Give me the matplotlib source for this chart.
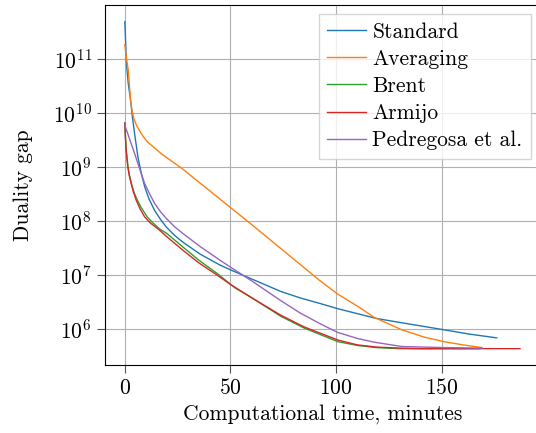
import matplotlib
matplotlib.use("Agg")
import matplotlib.pyplot as plt
import numpy as np
from matplotlib.ticker import NullLocator

plt.rcParams['font.family'] = 'serif'
plt.rcParams['font.serif'] = ['cmr10']
plt.rcParams['mathtext.fontset'] = 'cm'
plt.rcParams['axes.formatter.use_mathtext'] = True
plt.rcParams['axes.unicode_minus'] = False

# time in minutes, duality gap as log10 values
t_standard = [0, 0.8, 1.6, 2.7, 3.6, 4.6, 6.2, 7.8, 9.4, 11.5, 14.1, 16.8, 19.7,
              23.5, 27.6, 35.7, 45, 50, 59.5, 73.8, 83, 93, 100.8, 119, 131,
              151, 163, 176]
g_standard = [11.69, 10.9, 10.55, 10.24, 9.92, 9.62, 9.18, 8.88, 8.63, 8.4,
              8.19, 8.03, 7.88, 7.73, 7.6, 7.38, 7.18, 7.09, 6.93, 6.69, 6.57,
              6.46, 6.37, 6.19, 6.11, 5.98, 5.9, 5.83]

t_averaging = [0, 0.8, 1.6, 2.7, 3.4, 4.2, 5.5, 6.8, 8, 9.5, 11, 14.1, 17,
               20.5, 27, 33.3, 43.8, 60, 83, 92, 100.8, 110, 118, 131, 142,
               151, 160, 169]
g_averaging = [11.26, 11.0, 10.8, 10.24, 10.05, 9.9, 9.77, 9.68, 9.6, 9.52,
               9.45, 9.35, 9.25, 9.15, 8.97, 8.77, 8.44, 7.93, 7.19, 6.9, 6.64,
               6.42, 6.21, 5.98, 5.84, 5.76, 5.7, 5.65]

t_brent = [0, 0.3, 0.7, 1.5, 2.2, 3.2, 4.3, 5.7, 7.5, 10.6, 13, 16.4, 20, 27.6,
           35, 43.8, 52, 61, 73.8, 85, 100.8, 110, 119, 130, 140, 168]
g_brent = [9.81, 9.55, 9.3, 9.0, 8.84, 8.68, 8.53, 8.4, 8.26, 8.07, 7.97, 7.85,
           7.76, 7.51, 7.27, 7.02, 6.76, 6.55, 6.23, 6.01, 5.76, 5.69, 5.65,
           5.63, 5.63, 5.63]

t_armijo = [0, 0.3, 0.6, 1.4, 2.1, 3, 4.1, 5.4, 7.2, 9.4, 12, 15.7, 20, 27.6,
            35, 43.8, 50, 61, 73.8, 85, 100.8, 110, 119, 130, 140, 160, 187]
g_armijo = [9.81, 9.55, 9.31, 9.0, 8.84, 8.69, 8.53, 8.38, 8.22, 8.07, 7.96,
            7.85, 7.7, 7.45, 7.22, 6.99, 6.82, 6.55, 6.25, 6.03, 5.79, 5.7,
            5.66, 5.64, 5.63, 5.63, 5.63]

t_pedregosa = [0, 1.5, 3, 4.6, 6.2, 7.8, 9.4, 11.7, 14.1, 16.8, 19.7, 23.5,
               27.6, 35.7, 45, 50, 59.5, 73.8, 83, 93, 100.8, 110, 118, 131,
               151, 169]
g_pedregosa = [9.77, 9.6, 9.43, 9.25, 9.06, 8.87, 8.69, 8.5, 8.32, 8.17, 8.04,
               7.89, 7.76, 7.52, 7.27, 7.14, 6.9, 6.52, 6.29, 6.08, 5.93, 5.82,
               5.75, 5.67, 5.65, 5.64]

series = [
    ("Standard", t_standard, g_standard, "#1f77b4"),
    ("Averaging", t_averaging, g_averaging, "#ff7f0e"),
    ("Brent", t_brent, g_brent, "#2ca02c"),
    ("Armijo", t_armijo, g_armijo, "#d62728"),
    ("Pedregosa et al.", t_pedregosa, g_pedregosa, "#9467bd"),
]

fig = plt.figure(figsize=(5.36, 4.33), dpi=100)
ax = fig.add_axes([0.196, 0.157, 0.811, 0.831])

for name, t, g, c in series:
    ax.plot(t, 10 ** np.array(g), color=c, lw=1.0, label=name)

ax.set_yscale("log")
ax.yaxis.set_minor_locator(NullLocator())
ax.set_xticks([0, 50, 100, 150])
ax.grid(True, color="#b0b0b0", lw=0.8)
ax.tick_params(labelsize=15.5, length=6, color="#555555")
ax.set_xlabel("Computational time, minutes", fontsize=15.5)
ax.set_ylabel("Duality gap", fontsize=15.5, labelpad=14)
ax.legend(loc="upper right", fontsize=15.5, fancybox=False, edgecolor="#cccccc",
          borderpad=0.4, labelspacing=0.35, handlelength=1.8, handletextpad=0.3,
          borderaxespad=0.4)

fig.savefig("out.png", dpi=100)
